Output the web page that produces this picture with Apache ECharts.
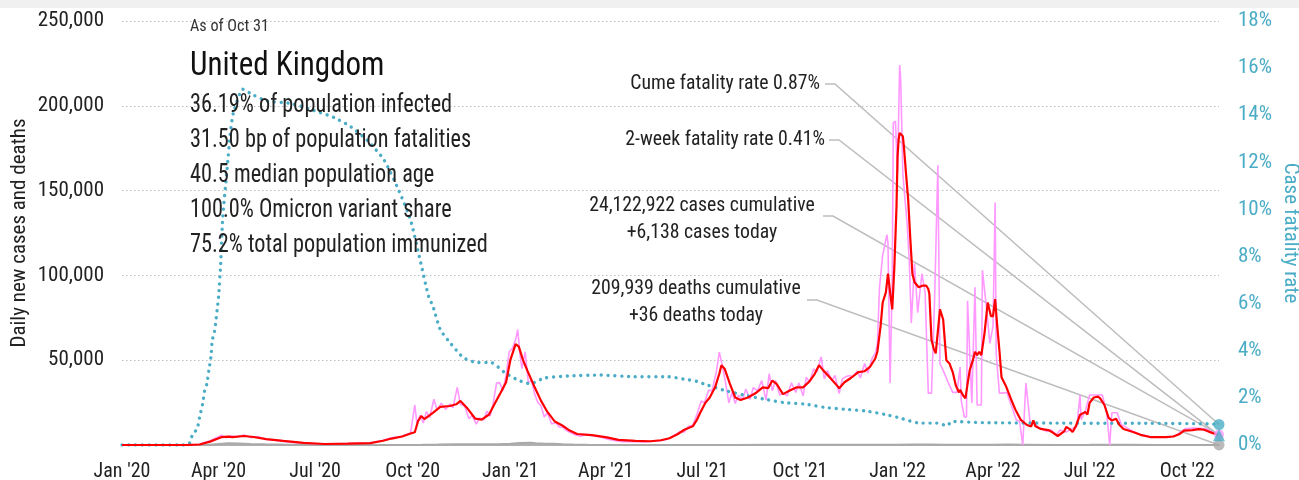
<!DOCTYPE html>
<html>
<head>
<meta charset="utf-8">
<title>United Kingdom COVID-19 cases and fatality rate</title>
<script src="https://cdn.jsdelivr.net/npm/echarts@6/dist/echarts.min.js"></script>
<style>
  html, body { margin: 0; padding: 0; background: #ffffff; }
  #chart { width: 1299px; height: 480px; }
</style>
</head>
<body>
<div id="chart"></div>
<script>
// ---- headline figures ----
const countryName = 'United Kingdom';
const asOfLabel = 'As of Oct 31';
const statLines = [
  '36.19% of population infected',
  '31.50 bp of population fatalities',
  '40.5 median population age',
  '100.0% Omicron variant share',
  '75.2% total population immunized'
];
const cumulativeCases = 24122922;
const casesToday = 6138;
const cumulativeDeaths = 209939;
const deathsToday = 36;
const cumeFatalityRate = 0.87;     // %
const twoWeekFatalityRate = 0.41;  // %

const startDate = '2020-01-01';
const endDate = '2022-10-31';

// ---- x axis ticks ----
const tickDates = ['2020-01-01','2020-04-01','2020-07-01','2020-10-01','2021-01-01','2021-04-01',
  '2021-07-01','2021-10-01','2022-01-01','2022-04-01','2022-07-01','2022-10-01'];
const tickLabels = ["Jan '20","Apr '20","Jul '20","Oct '20","Jan '21","Apr '21",
  "Jul '21","Oct '21","Jan '22","Apr '22","Jul '22","Oct '22"];

// ---- daily new cases (reported) ----
const dailyCases = [
  ['2020-01-01',0],['2020-03-01',20],['2020-03-14',400],['2020-03-24',2500],['2020-04-04',5800],
  ['2020-04-08',4200],['2020-04-12',5500],['2020-04-18',4800],['2020-04-25',5900],['2020-05-02',4300],
  ['2020-05-08',5000],['2020-05-16',3300],['2020-05-24',2800],['2020-06-01',2100],['2020-06-10',1500],
  ['2020-06-20',1100],['2020-07-10',550],['2020-08-01',900],['2020-08-22',1200],['2020-09-03',2800],
  ['2020-09-11',4200],['2020-09-21',5200],['2020-09-29',7100],['2020-10-03',23600],['2020-10-05',12800],
  ['2020-10-08',17500],['2020-10-11',13000],['2020-10-14',19700],['2020-10-17',16200],['2020-10-21',27000],
  ['2020-10-24',20500],['2020-10-28',24700],['2020-11-01',21000],['2020-11-05',24100],['2020-11-08',22000],
  ['2020-11-12',34000],['2020-11-15',24000],['2020-11-19',23000],['2020-11-23',15500],['2020-11-26',17500],
  ['2020-11-30',12300],['2020-12-03',16000],['2020-12-07',14700],['2020-12-10',20000],['2020-12-13',17000],
  ['2020-12-16',25000],['2020-12-19',36500],['2020-12-22',36800],['2020-12-25',32000],['2020-12-28',41000],
  ['2020-12-31',55000],['2021-01-03',57000],['2021-01-06',62000],['2021-01-08',68000],['2021-01-10',54000],
  ['2021-01-12',45000],['2021-01-15',55000],['2021-01-18',37000],['2021-01-21',38000],['2021-01-24',30000],
  ['2021-01-27',25000],['2021-01-30',23000],['2021-02-02',16500],['2021-02-05',19000],['2021-02-09',12400],
  ['2021-02-13',13300],['2021-02-16',10600],['2021-02-20',10400],['2021-02-23',8500],['2021-02-27',7200],
  ['2021-03-03',6000],['2021-03-08',5100],['2021-03-13',6100],['2021-03-20',5500],['2021-03-27',4700],
  ['2021-04-03',3400],['2021-04-10',2600],['2021-04-17',2000],['2021-04-24',2100],['2021-05-01',1900],
  ['2021-05-08',1800],['2021-05-15',2200],['2021-05-22',2600],['2021-05-29',3400],['2021-06-04',5300],
  ['2021-06-10',7800],['2021-06-14',7700],['2021-06-18',11000],['2021-06-22',11600],['2021-06-26',18300],
  ['2021-06-30',26000],['2021-07-03',24900],['2021-07-07',32500],['2021-07-10',31800],['2021-07-14',42300],
  ['2021-07-17',54700],['2021-07-20',46500],['2021-07-23',36400],['2021-07-26',24900],['2021-07-29',31100],
  ['2021-08-01',24500],['2021-08-04',29300],['2021-08-08',26700],['2021-08-11',33000],['2021-08-15',26800],
  ['2021-08-18',33900],['2021-08-22',31900],['2021-08-26',38000],['2021-08-30',26500],['2021-09-02',42000],
  ['2021-09-05',32000],['2021-09-08',38000],['2021-09-12',29500],['2021-09-15',30600],['2021-09-19',29000],
  ['2021-09-23',36700],['2021-09-27',31000],['2021-09-30',36500],['2021-10-04',29000],['2021-10-07',40000],
  ['2021-10-10',37000],['2021-10-14',45000],['2021-10-17',43000],['2021-10-21',52000],['2021-10-24',39000],
  ['2021-10-27',43900],['2021-10-31',38000],['2021-11-03',41000],['2021-11-07',30300],['2021-11-10',39000],
  ['2021-11-13',40200],['2021-11-17',41000],['2021-11-20',40000],['2021-11-24',43600],['2021-11-27',39500],
  ['2021-12-01',48000],['2021-12-04',42500],['2021-12-08',51000],['2021-12-11',54000],['2021-12-13',59600],
  ['2021-12-15',93000],['2021-12-18',112000],['2021-12-22',124000],['2021-12-23',119000],['2021-12-25',36500],
  ['2021-12-27',98000],['2021-12-28',190000],['2021-12-30',191000],['2022-01-01',160000],['2022-01-03',224000],
  ['2022-01-04',215000],['2022-01-06',160000],['2022-01-08',145000],['2022-01-10',131000],['2022-01-12',109000],
  ['2022-01-14',72000],['2022-01-17',107000],['2022-01-20',78000],['2022-01-24',101000],['2022-01-27',90000],
  ['2022-01-30',30600],['2022-02-02',30600],['2022-02-05',87000],['2022-02-08',165000],['2022-02-10',48000],
  ['2022-02-13',44000],['2022-02-17',38000],['2022-02-22',31000],['2022-02-26',31000],['2022-03-01',46000],
  ['2022-03-02',26500],['2022-03-05',16500],['2022-03-07',16500],['2022-03-08',85000],['2022-03-12',24800],
  ['2022-03-15',93000],['2022-03-17',23600],['2022-03-21',23600],['2022-03-22',103000],['2022-03-26',80000],
  ['2022-03-29',60000],['2022-04-01',70000],['2022-04-03',143000],['2022-04-04',54000],['2022-04-07',30600],
  ['2022-04-10',30600],['2022-04-14',31000],['2022-04-19',22000],['2022-04-23',14700],['2022-04-26',14000],
  ['2022-04-29',0],['2022-05-02',36500],['2022-05-06',13000],['2022-05-09',13000],['2022-05-15',10000],
  ['2022-05-22',8000],['2022-05-25',9000],['2022-05-31',6000],['2022-06-03',8800],['2022-06-09',7700],
  ['2022-06-14',9500],['2022-06-19',11000],['2022-06-22',29500],['2022-06-23',15000],['2022-06-27',20000],
  ['2022-07-01',29500],['2022-07-08',29500],['2022-07-13',29500],['2022-07-17',19500],['2022-07-20',0],
  ['2022-07-22',19000],['2022-07-27',19000],['2022-07-31',12000],['2022-08-03',11000],['2022-08-11',8000],
  ['2022-08-18',6200],['2022-08-27',4800],['2022-09-11',4600],['2022-09-20',5500],['2022-09-29',9500],
  ['2022-10-06',10000],['2022-10-13',9800],['2022-10-19',9400],['2022-10-25',7500],['2022-10-31',casesToday]
];

// ---- 7-day average of new cases ----
const avgCases = [
  ['2020-01-01',0],['2020-03-01',0],['2020-03-14',300],['2020-03-24',2000],['2020-04-04',4700],
  ['2020-04-10',4900],['2020-04-14',4600],['2020-04-25',5300],['2020-05-04',4700],['2020-05-16',3500],
  ['2020-06-01',2400],['2020-06-20',1200],['2020-07-10',600],['2020-08-01',800],['2020-08-22',1100],
  ['2020-09-03',2500],['2020-09-11',3800],['2020-09-21',5000],['2020-09-29',6800],['2020-10-03',7500],
  ['2020-10-06',14000],['2020-10-09',17000],['2020-10-12',15300],['2020-10-20',19000],['2020-10-27',22500],
  ['2020-11-05',23000],['2020-11-11',24000],['2020-11-15',26000],['2020-11-21',22000],['2020-11-29',15500],
  ['2020-12-05',15000],['2020-12-12',18000],['2020-12-17',24000],['2020-12-23',31000],['2020-12-28',37000],
  ['2021-01-01',50000],['2021-01-06',59500],['2021-01-09',58000],['2021-01-13',50000],['2021-01-17',44000],
  ['2021-01-24',34000],['2021-01-30',26000],['2021-02-05',19500],['2021-02-12',13800],['2021-02-19',11500],
  ['2021-02-26',8500],['2021-03-05',6500],['2021-03-19',5800],['2021-04-02',4500],['2021-04-13',3000],
  ['2021-04-29',2400],['2021-05-13',2200],['2021-05-23',2800],['2021-05-31',4000],['2021-06-08',6500],
  ['2021-06-14',9000],['2021-06-22',11000],['2021-06-26',15000],['2021-06-29',19000],['2021-07-04',25000],
  ['2021-07-08',28000],['2021-07-13',34000],['2021-07-17',42000],['2021-07-19',47000],['2021-07-22',45000],
  ['2021-07-27',36000],['2021-08-01',28000],['2021-08-06',26500],['2021-08-13',28000],['2021-08-20',30500],
  ['2021-08-27',34000],['2021-09-01',33500],['2021-09-05',38000],['2021-09-09',36000],['2021-09-15',30000],
  ['2021-09-21',32000],['2021-09-28',34000],['2021-10-04',34000],['2021-10-10',37500],['2021-10-15',42000],
  ['2021-10-19',47000],['2021-10-23',44000],['2021-10-29',40000],['2021-11-05',35000],['2021-11-07',33500],
  ['2021-11-12',37000],['2021-11-18',39500],['2021-11-25',43000],['2021-12-01',43500],['2021-12-06',46000],
  ['2021-12-11',51000],['2021-12-13',55000],['2021-12-16',70000],['2021-12-18',84000],['2021-12-21',90000],
  ['2021-12-23',101000],['2021-12-25',90000],['2021-12-27',80000],['2021-12-29',105000],['2021-12-31',140000],
  ['2022-01-01',170000],['2022-01-02',180000],['2022-01-03',184000],['2022-01-06',182000],['2022-01-07',176000],
  ['2022-01-09',160000],['2022-01-11',145000],['2022-01-13',122000],['2022-01-15',101000],['2022-01-17',96000],
  ['2022-01-21',93000],['2022-01-25',94000],['2022-01-28',94000],['2022-01-30',92000],['2022-01-31',89000],
  ['2022-02-02',62000],['2022-02-04',57000],['2022-02-06',54000],['2022-02-10',80000],['2022-02-13',74000],
  ['2022-02-14',66000],['2022-02-16',50000],['2022-02-19',48000],['2022-02-22',43000],['2022-02-25',35000],
  ['2022-02-28',31000],['2022-03-01',32500],['2022-03-04',29000],['2022-03-06',27500],['2022-03-08',36000],
  ['2022-03-10',44000],['2022-03-13',50000],['2022-03-15',55000],['2022-03-17',53000],['2022-03-19',55000],
  ['2022-03-21',53000],['2022-03-24',66000],['2022-03-27',84000],['2022-03-30',76000],['2022-04-01',76000],
  ['2022-04-03',86000],['2022-04-05',70000],['2022-04-07',56000],['2022-04-09',40000],['2022-04-13',35000],
  ['2022-04-18',27000],['2022-04-22',21000],['2022-04-27',15000],['2022-05-03',11800],['2022-05-07',11000],
  ['2022-05-09',14500],['2022-05-11',11000],['2022-05-16',9500],['2022-05-23',8800],['2022-05-27',7500],
  ['2022-06-01',5300],['2022-06-07',8000],['2022-06-09',10600],['2022-06-12',9500],['2022-06-15',7700],
  ['2022-06-18',11000],['2022-06-22',17700],['2022-06-24',18500],['2022-06-27',19500],['2022-06-29',18000],
  ['2022-07-01',24800],['2022-07-05',28000],['2022-07-09',28500],['2022-07-11',27500],['2022-07-15',23600],
  ['2022-07-19',16000],['2022-07-22',14500],['2022-07-26',15500],['2022-07-29',12000],['2022-08-02',9400],
  ['2022-08-11',7700],['2022-08-18',6000],['2022-08-27',4700],['2022-09-11',4700],['2022-09-18',5000],
  ['2022-09-24',6500],['2022-09-28',8500],['2022-10-06',8800],['2022-10-12',9400],['2022-10-17',9000],
  ['2022-10-25',7000],['2022-10-31',5900]
];

// ---- daily deaths ----
const dailyDeaths = [
  ['2020-01-01',0],['2020-03-01',0],['2020-03-20',50],['2020-04-01',600],['2020-04-10',1000],
  ['2020-04-20',900],['2020-05-01',650],['2020-05-15',400],['2020-06-01',250],['2020-06-20',130],
  ['2020-07-10',60],['2020-08-01',50],['2020-09-01',20],['2020-09-20',30],['2020-10-10',100],
  ['2020-10-25',250],['2020-11-10',450],['2020-11-25',500],['2020-12-05',420],['2020-12-20',500],
  ['2021-01-01',800],['2021-01-10',1200],['2021-01-20',1300],['2021-01-25',1100],['2021-02-01',900],
  ['2021-02-10',700],['2021-02-20',450],['2021-03-01',250],['2021-03-15',120],['2021-04-01',40],
  ['2021-05-01',15],['2021-06-01',10],['2021-07-01',20],['2021-08-01',70],['2021-09-01',120],
  ['2021-10-01',130],['2021-11-01',170],['2021-12-01',120],['2022-01-01',150],['2022-01-15',270],
  ['2022-02-01',230],['2022-02-15',180],['2022-03-01',120],['2022-04-01',200],['2022-04-15',250],
  ['2022-05-01',180],['2022-06-01',60],['2022-07-01',100],['2022-07-20',160],['2022-08-10',130],
  ['2022-09-01',60],['2022-10-01',70],['2022-10-31',deathsToday]
];

// ---- cumulative case fatality rate, % ----
const fatalityRate = [
  ['2020-01-01',0],['2020-03-02',0],['2020-03-05',0.1],['2020-03-07',0.38],['2020-03-12',0.72],
  ['2020-03-14',1.15],['2020-03-17',1.74],['2020-03-19',2.33],['2020-03-21',2.6],['2020-03-23',3.2],
  ['2020-03-25',3.8],['2020-03-26',4.45],['2020-03-28',4.75],['2020-04-01',6.3],['2020-04-03',7.7],
  ['2020-04-05',9.7],['2020-04-09',11.7],['2020-04-12',13.2],['2020-04-15',14.1],['2020-04-24',15.1],
  ['2020-05-04',14.85],['2020-05-17',14.6],['2020-06-08',14.5],['2020-06-30',14.2],['2020-07-19',13.9],
  ['2020-08-04',13.5],['2020-08-20',12.9],['2020-09-04',12.1],['2020-09-18',10.8],['2020-09-29',9.55],
  ['2020-10-08',7.85],['2020-10-16',6.3],['2020-10-20',5.9],['2020-10-27',4.9],['2020-11-06',4.3],
  ['2020-11-18',3.7],['2020-12-01',3.5],['2020-12-14',3.5],['2020-12-26',3.1],['2021-01-08',2.76],
  ['2021-01-20',2.6],['2021-02-02',2.84],['2021-02-24',2.93],['2021-03-27',2.97],['2021-04-27',2.9],
  ['2021-05-29',2.9],['2021-06-13',2.8],['2021-06-26',2.7],['2021-07-02',2.6],['2021-07-21',2.33],
  ['2021-08-09',2.12],['2021-08-28',1.95],['2021-09-16',1.8],['2021-10-05',1.74],['2021-10-24',1.6],
  ['2021-11-12',1.52],['2021-12-01',1.45],['2021-12-20',1.3],['2022-01-03',1.15],['2022-01-22',0.93],
  ['2022-02-07',0.93],['2022-02-17',0.82],['2022-02-21',1.0],['2022-03-22',0.95],['2022-05-26',0.93],
  ['2022-08-27',0.92],['2022-10-20',0.9],['2022-10-31',cumeFatalityRate]
];

// ---- styling ----
const FONT = "'Liberation Sans Narrow', 'Arial Narrow', 'Roboto Condensed', sans-serif";
const TEAL = '#4bacc6';
const RED = '#ff0000';
const PINK = '#ff99ff';
const GREY = '#aaaaaa';
const INK = '#222222';

const toTime = s => new Date(s + 'T00:00:00').getTime();
const asPoints = arr => arr.map(d => [toTime(d[0]), d[1]]);
const tickTimes = tickDates.map(toTime);
const tEnd = toTime(endDate);
const fmt = n => n.toLocaleString('en-US');

const chart = echarts.init(document.getElementById('chart'), null, { renderer: 'canvas' });

const option = {
  animation: false,
  backgroundColor: '#ffffff',
  textStyle: { fontFamily: FONT },
  grid: { left: 122, right: 80, top: 21, bottom: 35, containLabel: false, outerBoundsMode: 'none' },
  xAxis: {
    // dates as millisecond timestamps on a linear axis; quarter starts are labelled
    type: 'value',
    min: toTime(startDate),
    max: tEnd,
    axisLine: { show: true, lineStyle: { color: '#b0b0b0', width: 2 } },
    axisTick: { show: false },
    splitLine: { show: false },
    axisLabel: {
      customValues: tickTimes,
      formatter: v => {
        const i = tickTimes.indexOf(v);
        return i >= 0 ? tickLabels[i] : '';
      },
      fontFamily: FONT, fontSize: 20, color: INK, margin: 17,
      showMinLabel: true, showMaxLabel: true
    }
  },
  yAxis: [
    {
      type: 'value', position: 'left', min: 0, max: 250000, interval: 50000,
      axisLine: { show: false }, axisTick: { show: false },
      axisLabel: {
        formatter: v => (v === 0 ? '' : fmt(v)),
        fontFamily: FONT, fontSize: 21, color: INK, margin: 18
      },
      splitLine: { show: true, lineStyle: { color: '#bdbdbd', type: [1.5, 2.5], width: 1 } },
      name: 'Daily new cases and deaths',
      nameLocation: 'middle', nameRotate: 90, nameGap: 92, nameMoveOverlap: false,
      nameTextStyle: { fontFamily: FONT, fontSize: 21, color: INK }
    },
    {
      type: 'value', position: 'right', min: 0, max: 18, interval: 2,
      axisLine: { show: false }, axisTick: { show: false },
      axisLabel: {
        formatter: '{value}%',
        fontFamily: FONT, fontSize: 21, color: TEAL, margin: 19
      },
      splitLine: { show: false },
      name: 'Case fatality rate',
      nameLocation: 'middle', nameRotate: -90, nameGap: 61, nameMoveOverlap: false,
      nameTextStyle: { fontFamily: FONT, fontSize: 21, color: TEAL }
    }
  ],
  series: [
    {
      name: 'Daily deaths', type: 'line', yAxisIndex: 0, showSymbol: false,
      data: asPoints(dailyDeaths),
      lineStyle: { color: GREY, width: 2 }, z: 2
    },
    {
      name: 'Daily new cases', type: 'line', yAxisIndex: 0, showSymbol: false,
      data: asPoints(dailyCases),
      lineStyle: { color: PINK, width: 1.6 }, z: 3
    },
    {
      name: 'Case fatality rate', type: 'line', yAxisIndex: 1, showSymbol: false,
      data: asPoints(fatalityRate), smooth: 0.2,
      lineStyle: { color: TEAL, width: 3.4, type: [0.01, 6.8], cap: 'round' }, z: 4
    },
    {
      name: '7-day average cases', type: 'line', yAxisIndex: 0, showSymbol: false,
      data: asPoints(avgCases),
      lineStyle: { color: RED, width: 2.2 }, z: 5
    },
    {
      name: 'Deaths today', type: 'scatter', yAxisIndex: 0, symbol: 'circle', symbolSize: 11,
      data: [[tEnd, deathsToday]], itemStyle: { color: GREY }, z: 6
    },
    {
      name: 'Cases today', type: 'scatter', yAxisIndex: 0, symbol: 'circle', symbolSize: 10,
      data: [[tEnd, casesToday]], itemStyle: { color: PINK }, z: 6
    },
    {
      name: 'Cume fatality rate', type: 'scatter', yAxisIndex: 1, symbol: 'circle', symbolSize: 11,
      data: [[tEnd, cumeFatalityRate]], itemStyle: { color: TEAL }, z: 7
    },
    {
      name: '2-week fatality rate', type: 'scatter', yAxisIndex: 1, symbol: 'triangle', symbolSize: 12,
      data: [[tEnd, twoWeekFatalityRate]], itemStyle: { color: TEAL }, z: 7
    }
  ]
};

chart.setOption(option);

// ---- header text, annotations and leader lines ----
// text is narrowed horizontally to give the condensed look of the headline type
const txt = (x, y, text, size, align, squeeze, color) => ({
  type: 'text', x: x, y: y, scaleX: squeeze, silent: true, z: 20,
  style: {
    text: text, fontFamily: FONT, fontSize: size, fill: color || INK,
    align: align || 'left', verticalAlign: 'middle', lineHeight: Math.round(size * 1.28)
  }
});

const cfrPt = chart.convertToPixel({ xAxisIndex: 0, yAxisIndex: 1 }, [tEnd, cumeFatalityRate]);
const twoWkPt = chart.convertToPixel({ xAxisIndex: 0, yAxisIndex: 1 }, [tEnd, twoWeekFatalityRate]);
const casesPt = chart.convertToPixel({ xAxisIndex: 0, yAxisIndex: 0 }, [tEnd, casesToday]);
const deathsPt = chart.convertToPixel({ xAxisIndex: 0, yAxisIndex: 0 }, [tEnd, deathsToday]);

const leader = (x0, y0, end) => ({
  type: 'polyline', silent: true, z: 1,
  shape: { points: [[x0, y0], [x0 + 10, y0], end] },
  style: { stroke: '#bdbdbd', lineWidth: 1.5, fill: null }
});

const graphics = [
  { type: 'rect', silent: true, z: 0, shape: { x: 0, y: 0, width: 1299, height: 8 }, style: { fill: '#f0f0f0' } },
  txt(190, 27, asOfLabel, 17, 'left', 0.95, '#333333'),
  txt(190, 67, countryName, 33, 'left', 0.94, '#111111')
];
statLines.forEach((line, i) => graphics.push(txt(190, 106 + i * 35, line, 25, 'left', 0.89)));

graphics.push(
  txt(820, 84, 'Cume fatality rate ' + cumeFatalityRate.toFixed(2) + '%', 21, 'right', 0.94),
  txt(825, 140, '2-week fatality rate ' + twoWeekFatalityRate.toFixed(2) + '%', 21, 'right', 0.94),
  txt(702, 219, fmt(cumulativeCases) + ' cases cumulative\n+' + fmt(casesToday) + ' cases today', 21, 'center', 0.94),
  txt(696, 302, fmt(cumulativeDeaths) + ' deaths cumulative\n+' + fmt(deathsToday) + ' deaths today', 21, 'center', 0.94),
  leader(825, 84, cfrPt),
  leader(829, 140, twoWkPt),
  leader(823, 216, casesPt),
  leader(807, 300, deathsPt)
);

chart.setOption({ graphic: graphics });
</script>
</body>
</html>
